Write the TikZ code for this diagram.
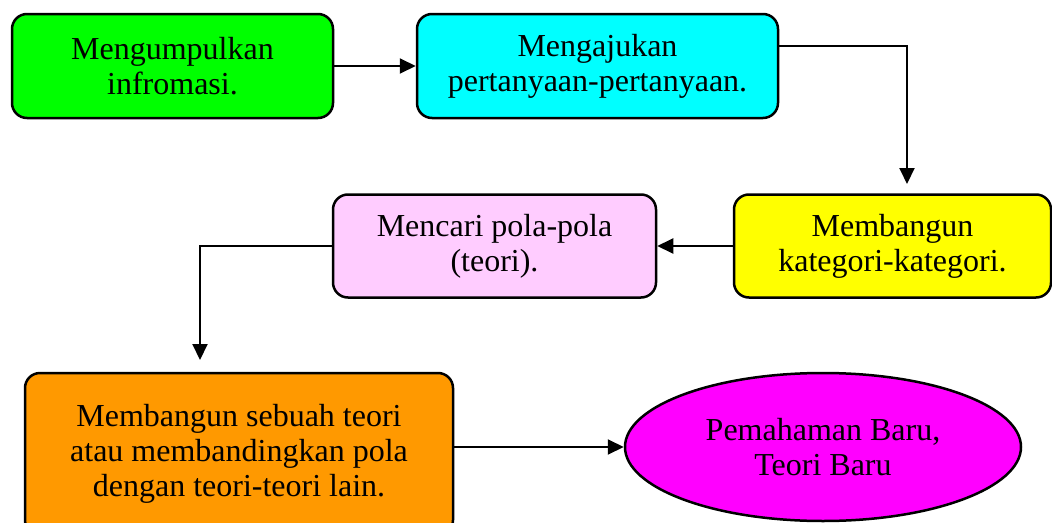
\documentclass[tikz,border=0pt]{standalone}
\usepackage{fontspec}
\setmainfont{Liberation Serif}
\usetikzlibrary{arrows.meta,shapes.geometric,calc}
\definecolor{cgreen}{HTML}{00FF00}
\definecolor{ccyan}{HTML}{00FFFF}
\definecolor{cyellow}{HTML}{FFFF00}
\definecolor{cpink}{HTML}{FFCCFF}
\definecolor{corange}{HTML}{FF9900}
\definecolor{cmagenta}{HTML}{FF00FF}
\tikzset{
  stepbox/.style={draw=black, line width=2.5pt, rounded corners=15pt, rectangle, inner sep=0pt, align=center, font=\fontsize{32}{35}\selectfont},
  oval/.style={draw=black, line width=2.5pt, ellipse, inner sep=0pt, align=center, font=\fontsize{32}{35}\selectfont},
  conn/.style={line width=2pt, -{Triangle[length=16pt,width=15pt]}}
}
\begin{document}
\begin{tikzpicture}[x=1pt,y=-1pt]
\useasboundingbox (0,0) rectangle (1052,522);
\node[stepbox, fill=cgreen, minimum width=321pt, minimum height=104pt] (b1) at (172.5,66) {Mengumpulkan\\infromasi.};
\node[stepbox, fill=ccyan, minimum width=361pt, minimum height=104pt] (b2) at (597.5,66) {Mengajukan\\pertanyaan-pertanyaan.};
\node[stepbox, fill=cyellow, minimum width=317pt, minimum height=103pt] (b3) at (892.5,246) {Membangun\\kategori-kategori.};
\node[stepbox, fill=cpink, minimum width=323pt, minimum height=103pt] (b4) at (494.5,246) {Mencari pola-pola\\(teori).};
\node[stepbox, fill=corange, minimum width=428pt, minimum height=162pt] (b5) at (239,454) {Membangun sebuah teori\\atau membandingkan pola\\dengan teori-teori lain.};
\node[oval, fill=cmagenta, minimum width=396pt, minimum height=148pt] (e) at (823,447) {Pemahaman Baru,\\Teori Baru};
\coordinate (c3) at (907,184);
\coordinate (c5) at (200,360);
\draw[conn] (b1.east) -- (b2.west);
\draw[conn] ($(b2.east)+(0,-20)$) -| (c3);
\draw[conn] (b3.west) -- (b4.east);
\draw[conn] (b4.west) -| (c5);
\draw[conn] (e.west -| b5.east) -- (e.west);
\end{tikzpicture}
\end{document}
